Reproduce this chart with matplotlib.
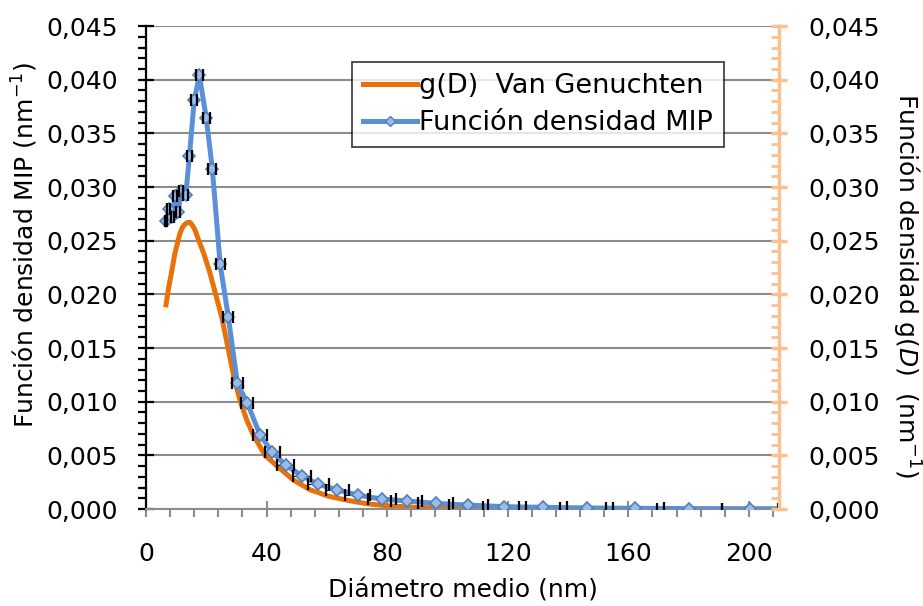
import matplotlib
matplotlib.use("Agg")
import matplotlib.pyplot as plt
from matplotlib import ticker
from matplotlib.lines import Line2D

# Van Genuchten fit g(D)
vg_d = [6.5, 7.5, 8.5, 9.5, 10.7, 11.3, 12.0, 12.8, 13.7, 14.6, 15.5, 16.4,
        17.4, 19.3, 21.2, 23.1, 25.1, 27.0, 29.0, 31.2, 33.4, 35.6, 39.5,
        43.9, 48.9, 54.4, 60.5, 67.0, 73.2, 80.0, 90.0, 100.0, 120.0, 150.0,
        180.0, 210.0]
vg_g = [0.0188, 0.0206, 0.0221, 0.0237, 0.0251, 0.0257, 0.0262, 0.0265,
        0.0267, 0.0267, 0.0264, 0.0259, 0.0251, 0.0237, 0.0220, 0.0200,
        0.0179, 0.0153, 0.0125, 0.0101, 0.0083, 0.0069, 0.0050, 0.0039,
        0.0027, 0.0018, 0.0012, 0.0008, 0.0005, 0.0003, 0.00015, 0.0001,
        0.00004, 0.00001, 0.0, 0.0]

# MIP density function (markers) with diameter spread
mip_d = [6.6, 7.6, 8.7, 9.6, 10.7, 11.6, 13.2, 14.4, 16.0, 17.7, 20.0, 22.0,
         24.6, 27.3, 30.3, 33.6, 37.8, 41.9, 46.3, 51.7, 57.2, 63.4, 70.2,
         78.2, 86.5, 96.1, 106.9, 118.8, 131.6, 146.2, 162.2, 180.3, 200.4]
mip_f = [0.0268, 0.0280, 0.0272, 0.0292, 0.0277, 0.0296, 0.0293, 0.0329,
         0.0381, 0.0404, 0.0364, 0.0317, 0.0228, 0.0179, 0.0117, 0.0099,
         0.0069, 0.0053, 0.0041, 0.0031, 0.0023, 0.0018, 0.0013, 0.00093,
         0.00075, 0.00053, 0.00037, 0.00022, 0.00016, 0.0001, 0.00007,
         0.00004, 0.00002]
mip_err = [0.4, 0.5, 0.5, 0.6, 0.6, 0.7, 0.8, 0.9, 1.0, 1.1, 1.2, 1.3, 1.5,
           1.6, 1.8, 2.0, 2.3, 2.5, 2.8, 3.1, 3.4, 3.8, 4.2, 4.7, 5.2, 5.8,
           6.4, 7.1, 7.9, 8.8, 9.7, 10.8, 9.3]
# the line runs on past the right axis
tail_d = [215.0]
tail_f = [0.00001]

ORANGE = "#E8710A"
BLUE = "#5B8FD6"
RIGHT = "#FAC090"
GRID = "#8C8C8C"
FS = 19.5   # legend
LS = 18     # axis titles
TS = 18     # tick labels


def comma(v, _pos):
    return f"{v:.3f}".replace(".", ",")


fig = plt.figure(figsize=(9.23, 6.06), dpi=100)
ax = fig.add_axes([0.1582, 0.160, 0.6858, 0.797])

ax.plot(vg_d, vg_g, color=ORANGE, lw=3.6, zorder=2,
        solid_capstyle="butt", solid_joinstyle="round")

eb = ax.errorbar(mip_d, mip_f, xerr=mip_err, fmt="none", ecolor="black",
                 elinewidth=0.8, capsize=4.5, capthick=1.6, zorder=2.5)
for cap in eb[1]:
    cap.set_zorder(5)

ax.plot(mip_d + tail_d, mip_f + tail_f, color=BLUE, lw=3.6, zorder=3,
        solid_joinstyle="round")
ax.plot(mip_d, mip_f, ls="none", marker="D", ms=6.5, mfc="#9DBBE3",
        mec="#4F7FC0", mew=1.2, zorder=4)

ax.set_xlim(0, 210)
ax.set_ylim(0, 0.045)
ax.xaxis.set_major_locator(ticker.MultipleLocator(40))
ax.xaxis.set_minor_locator(ticker.MultipleLocator(8))
ax.yaxis.set_major_locator(ticker.MultipleLocator(0.005))
ax.yaxis.set_minor_locator(ticker.MultipleLocator(0.001))
ax.yaxis.set_major_formatter(ticker.FuncFormatter(comma))
ax.grid(axis="y", which="major", color=GRID, lw=1.5)
ax.set_axisbelow(True)

for s in ("top", "right"):
    ax.spines[s].set_visible(False)
ax.spines["left"].set_color("black")
ax.spines["left"].set_linewidth(1.6)
ax.spines["bottom"].set_color(GRID)
ax.spines["bottom"].set_linewidth(1.5)

ax.tick_params(axis="y", which="major", direction="inout", length=12,
               width=1.6, color="black", labelsize=TS, pad=14)
ax.tick_params(axis="y", which="minor", direction="out", length=6,
               width=1.6, color="black")
ax.tick_params(axis="x", which="major", direction="inout", length=12,
               width=1.5, color=GRID, labelsize=TS, pad=18)
ax.tick_params(axis="x", which="minor", direction="out", length=6,
               width=1.5, color=GRID)

ax.set_xlabel("Diámetro medio (nm)", fontsize=LS)
ax.xaxis.set_label_coords(0.5, -0.168)
ax.xaxis.label.set_va("center")
ax.set_ylabel("Función densidad MIP (nm$^{-1}$)", fontsize=LS)
ax.yaxis.set_label_coords(-0.191, 0.547)
ax.yaxis.label.set_va("center")

ax2 = ax.twinx()
ax2.set_ylim(0, 0.045)
ax2.yaxis.set_major_locator(ticker.MultipleLocator(0.005))
ax2.yaxis.set_minor_locator(ticker.MultipleLocator(0.001))
ax2.yaxis.set_major_formatter(ticker.FuncFormatter(comma))
for s in ("top", "left", "bottom"):
    ax2.spines[s].set_visible(False)
ax2.spines["right"].set_color(RIGHT)
ax2.spines["right"].set_linewidth(2.5)
ax2.tick_params(axis="y", which="major", direction="inout", length=12,
                width=2.5, color=RIGHT, labelsize=TS, pad=15)
ax2.tick_params(axis="y", which="minor", direction="in", length=6,
                width=2.0, color=RIGHT)
ax2.set_ylabel("Función densidad g($\\mathit{D}$)  (nm$^{-1}$)", fontsize=LS,
               rotation=-90)
ax2.yaxis.set_label_coords(1.2, 0.464)
ax2.yaxis.label.set_va("center")
ax2.yaxis.label.set_ha("center")

handles = [
    Line2D([], [], color=ORANGE, lw=3.6),
    Line2D([], [], color=BLUE, lw=3.6, marker="D", ms=5, mfc="#9DBBE3",
           mec="#4F7FC0"),
]
leg = ax.legend(handles, ["g(D)  Van Genuchten", "Función densidad MIP"],
                loc="upper left", bbox_to_anchor=(0.325, 0.925),
                borderaxespad=0, fontsize=FS, frameon=True, fancybox=False,
                edgecolor="black", handlelength=2.0, handletextpad=0.1,
                labelspacing=0.42, borderpad=0.4)
leg.get_frame().set_linewidth(1.2)
leg.set_zorder(10)

fig.savefig("out.png", dpi=100)
